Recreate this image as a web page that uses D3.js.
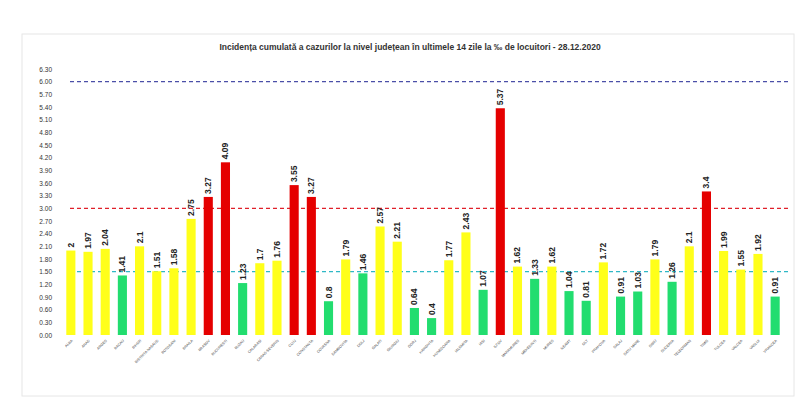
<!DOCTYPE html>
<html><head><meta charset="utf-8">
<script src="https://cdn.jsdelivr.net/npm/d3@7"></script>
<style>body{margin:0;background:#fff;font-family:"Liberation Sans",Arial,sans-serif}</style>
</head><body><svg width="800" height="420"></svg>
<script>
var counties = ["ALBA","ARAD","ARGES","BACAU","BIHOR","BISTRITA NASAUD","BOTOSANI","BRAILA","BRASOV","BUCURESTI","BUZAU","CALARASI","CARAS-SEVERIN","CLUJ","CONSTANTA","COVASNA","DAMBOVITA","DOLJ","GALATI","GIURGIU","GORJ","HARGHITA","HUNEDOARA","IALOMITA","IASI","ILFOV","MARAMURES","MEHEDINTI","MURES","NEAMT","OLT","PRAHOVA","SALAJ","SATU MARE","SIBIU","SUCEAVA","TELEORMAN","TIMIS","TULCEA","VALCEA","VASLUI","VRANCEA"];
var values = [2,1.97,2.04,1.41,2.1,1.51,1.58,2.75,3.27,4.09,1.23,1.7,1.76,3.55,3.27,0.8,1.79,1.46,2.57,2.21,0.64,0.4,1.77,2.43,1.07,5.37,1.62,1.33,1.62,1.04,0.81,1.72,0.91,1.03,1.79,1.26,2.1,3.4,1.99,1.55,1.92,0.91];
var yTicks = d3.range(0, 64, 3).map(function(d) { return d / 10; });
var thresholds = [{v: 6, c: "#4b4fa8"}, {v: 3, c: "#e0202a"}, {v: 1.5, c: "#2fb8c6"}];

var svg = d3.select("svg");
svg.append("rect").attr("x", 22).attr("y", 34).attr("width", 772).attr("height", 362)
   .attr("fill", "none").attr("stroke", "#e6e6e6");

var x = d3.scaleBand().domain(counties).range([62, 784]).paddingInner(0.47).paddingOuter(0.25);
var y = d3.scaleLinear().domain([0, 6.3]).range([335, 69]);

svg.append("text").attr("x", 410).attr("y", 50).attr("text-anchor", "middle")
   .attr("font-size", 8.5).attr("font-weight", "bold").attr("fill", "#333")
   .text("Incidența cumulată a cazurilor la nivel județean în ultimele 14 zile la ‰ de locuitori - 28.12.2020");

svg.selectAll(".yt").data(yTicks).enter().append("text")
   .attr("x", 52).attr("y", function(d) { return y(d) + 2.5; })
   .attr("text-anchor", "end").attr("font-size", 6.5).attr("fill", "#333")
   .text(function(d) { return d.toFixed(2); });

svg.selectAll(".th").data(thresholds).enter().append("line")
   .attr("x1", 70).attr("x2", 790)
   .attr("y1", function(d) { return y(d.v); }).attr("y2", function(d) { return y(d.v); })
   .attr("stroke", function(d) { return d.c; }).attr("stroke-width", 1.2).attr("stroke-dasharray", "4,3");

var color = function(v) { return v > 3 ? "#e50000" : (v >= 1.5 ? "#ffff1a" : "#22dd6f"); };

svg.selectAll(".bar").data(values).enter().append("rect")
   .attr("x", function(d, i) { return x(counties[i]); })
   .attr("y", function(d) { return y(d); })
   .attr("width", x.bandwidth())
   .attr("height", function(d) { return y(0) - y(d); })
   .attr("fill", function(d) { return color(d); });

svg.selectAll(".lbl").data(values).enter().append("text")
   .attr("transform", function(d, i) {
     return "translate(" + (x(counties[i]) + x.bandwidth() / 2 + 3) + "," + (y(d) - 3) + ") rotate(-90)";
   })
   .attr("font-size", 8.5).attr("font-weight", "bold").attr("fill", "#222")
   .text(function(d) { return String(d); });

svg.selectAll(".xl").data(counties).enter().append("text")
   .attr("transform", function(d) {
     return "translate(" + (x(d) + x.bandwidth() / 2 + 2) + ",341) rotate(-45)";
   })
   .attr("text-anchor", "end").attr("font-size", 3.6).attr("fill", "#444")
   .text(function(d) { return d; });
</script></body></html>
